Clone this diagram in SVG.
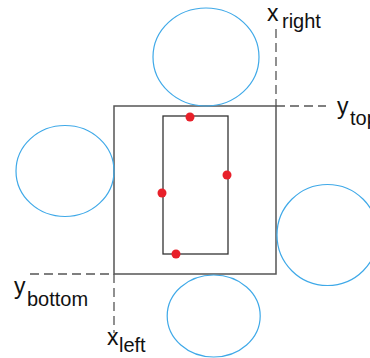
<svg xmlns="http://www.w3.org/2000/svg" width="370" height="358" viewBox="0 0 370 358">
<style>
.circ{fill:none;stroke:#3fa9e8;stroke-width:1.2}
.rect{fill:none;stroke:#555;stroke-width:1.5}
.inner{fill:none;stroke:#333;stroke-width:1.3}
.dash{fill:none;stroke:#555;stroke-width:1.3;stroke-dasharray:9 5}
.dot{fill:#e8202a}
.lbl{font-family:"Liberation Sans",Arial,sans-serif;fill:#111}
.main{font-size:23px}
.sub{font-size:20px}
</style>
<rect width="370" height="358" fill="#fff"/>
<g id="connectors">
<line class="dash" x1="276" y1="29" x2="276" y2="106"/>
<line class="dash" x1="276" y1="106" x2="326" y2="106"/>
<line class="dash" x1="30" y1="274" x2="114" y2="274"/>
<line class="dash" x1="114" y1="274" x2="114" y2="333"/>
</g>
<g id="outer-square"><rect class="rect" x="114" y="106" width="162" height="168"/></g>
<g id="inner-rect"><rect class="inner" x="163" y="116" width="65" height="138"/></g>
<g id="circle-top"><ellipse class="circ" cx="206" cy="57" rx="53" ry="49"/></g>
<g id="circle-left"><ellipse class="circ" cx="65" cy="171" rx="49" ry="45.5"/></g>
<g id="circle-right"><ellipse class="circ" cx="327.5" cy="235" rx="50.5" ry="50.5"/></g>
<g id="circle-bottom"><ellipse class="circ" cx="213.7" cy="316" rx="46.5" ry="41"/></g>
<g id="dots">
<circle class="dot" cx="190" cy="117" r="4.5"/>
<circle class="dot" cx="227" cy="175" r="4.5"/>
<circle class="dot" cx="162" cy="193" r="4.5"/>
<circle class="dot" cx="176" cy="254" r="4.5"/>
</g>
<g id="label-xright"><text class="lbl main" x="267" y="21">x</text><text class="lbl sub" x="282" y="28">right</text></g>
<g id="label-ytop"><text class="lbl main" x="337" y="114">y</text><text class="lbl sub" x="350" y="125">top</text></g>
<g id="label-ybottom"><text class="lbl main" x="14" y="294">y</text><text class="lbl sub" x="27" y="306">bottom</text></g>
<g id="label-xleft"><text class="lbl main" x="107" y="345">x</text><text class="lbl sub" x="119" y="352">left</text></g>
</svg>
